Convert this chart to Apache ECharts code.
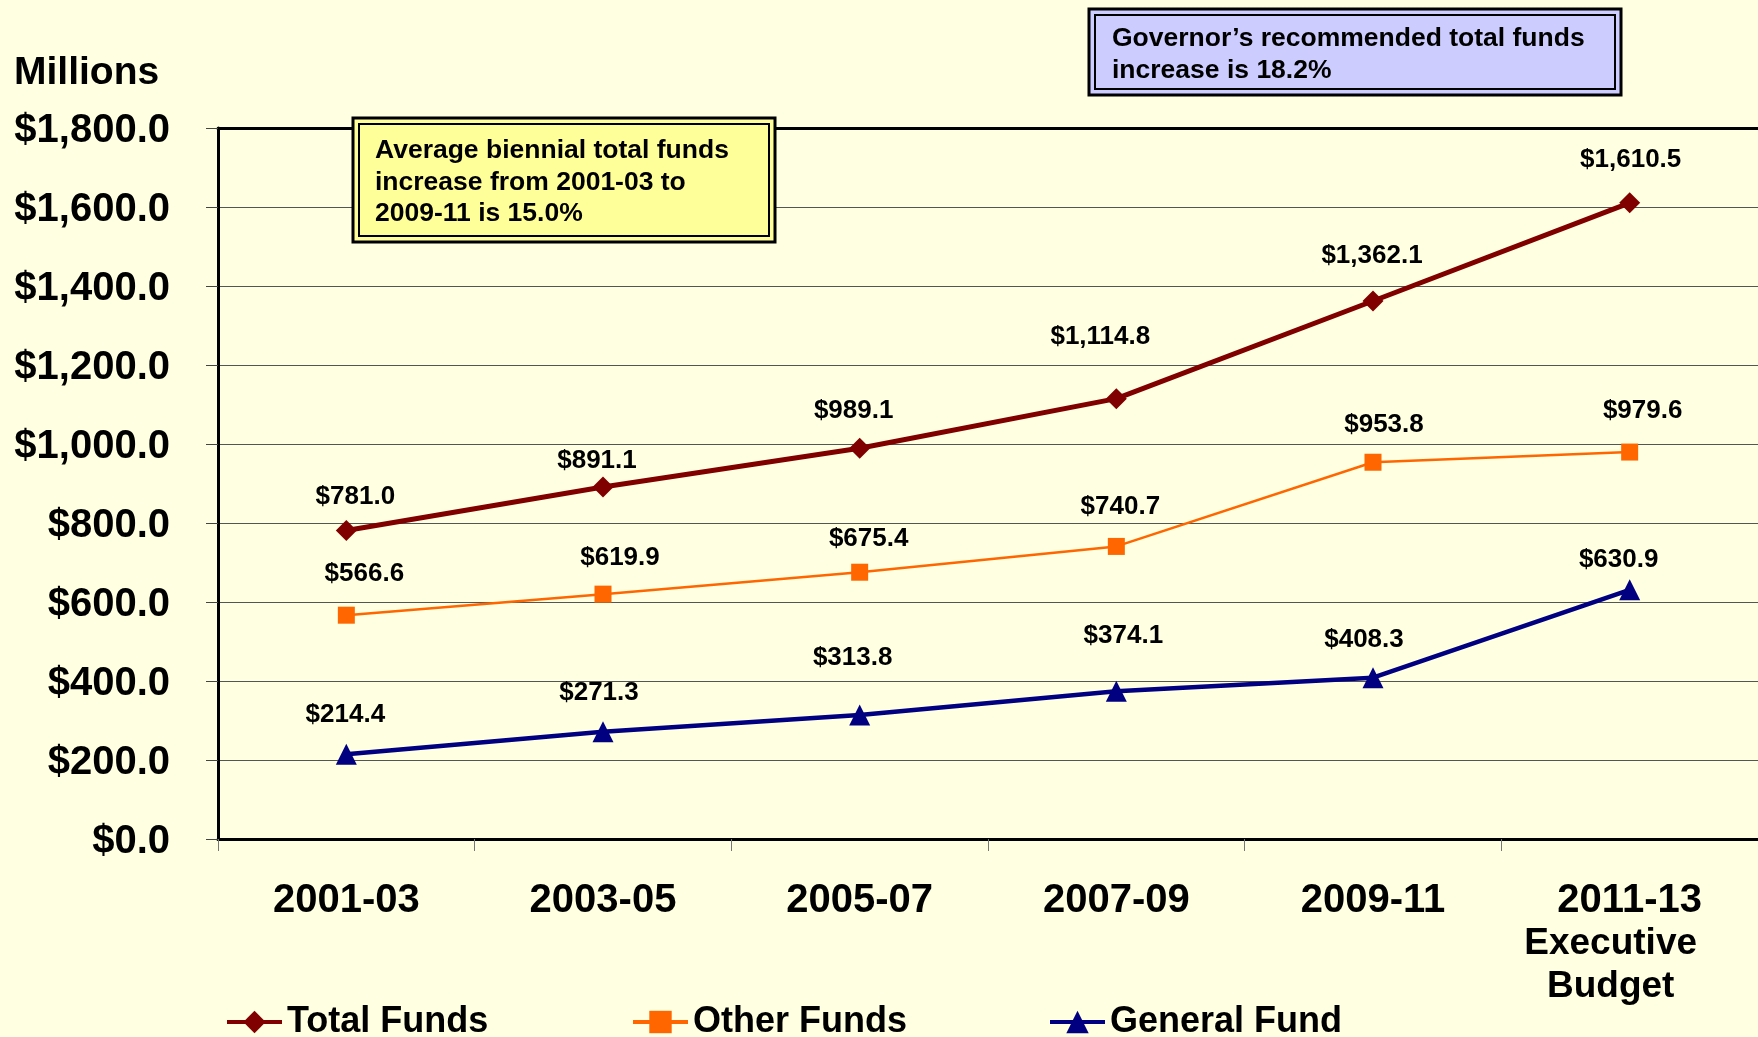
<!DOCTYPE html>
<html>
<head>
<meta charset="utf-8">
<script src="https://cdn.jsdelivr.net/npm/echarts@6/dist/echarts.min.js"></script>
<style>
html,body{margin:0;padding:0;background:#FFFFE1;}
#chart{width:1758px;height:1037px;}
</style>
</head>
<body>
<div id="chart"></div>
<script>
const categories = ['2001-03', '2003-05', '2005-07', '2007-09', '2009-11', '2011-13\nExecutive\nBudget'];
const totalFunds = [781.0, 891.1, 989.1, 1114.8, 1362.1, 1610.5];
const otherFunds = [566.6, 619.9, 675.4, 740.7, 953.8, 979.6];
const generalFund = [214.4, 271.3, 313.8, 374.1, 408.3, 630.9];
const yTicks = { min: 0, max: 1800, interval: 200 };
const noteLeft = ['Average biennial total funds', 'increase from 2001-03 to', '2009-11 is 15.0%'];
const noteRight = ['Governor\u2019s recommended total funds', 'increase is 18.2%'];

// label nudges (styling only, pixels)
const totalLabelShift = [[9, 12], [-6, 19], [-6, 8], [-16, -16], [-1, 0], [1, 2]];
const otherLabelShift = [[18, 2], [17, 7], [9, 10], [4, 4], [11, 6], [13, 2]];
const generalLabelShift = [[-1, 6], [-4, 6], [-7, -12], [7, -10], [-9, 8], [-11, 16]];

const FONT = 'Arial, "Liberation Sans", sans-serif';
function money(v) {
  const s = Number(v).toFixed(1);
  const [i, d] = s.split('.');
  return '$' + i.replace(/\B(?=(\d{3})+(?!\d))/g, ',') + '.' + d;
}
const labelStyle = {
  show: true, position: 'top', distance: 22,
  color: '#000', fontFamily: FONT, fontWeight: 'bold', fontSize: 26,
  formatter: p => money(p.value)
};
function withShift(values, shifts) {
  return values.map((v, i) => ({ value: v, label: { offset: shifts[i] } }));
}
const legendCommon = {
  top: 999, itemWidth: 55, itemHeight: 28,
  lineStyle: { width: 4 },
  textStyle: { color: '#000', fontFamily: FONT, fontWeight: 'bold', fontSize: 36 }
};

const chart = echarts.init(document.getElementById('chart'), null, { renderer: 'canvas' });
chart.setOption({
  backgroundColor: '#FFFFE1',
  animation: false,
  grid: { left: 218, top: 128, right: 0, bottom: 198 },
  xAxis: [{
    type: 'category', data: categories, boundaryGap: true,
    axisLine: { lineStyle: { color: '#000', width: 3 } },
    axisTick: { show: true, length: 12, lineStyle: { color: '#777', width: 1 } },
    axisLabel: {
      color: '#000', fontFamily: FONT, fontWeight: 'bold', fontSize: 40, lineHeight: 43, margin: 40, interval: 0,
      formatter: v => {
        const parts = v.split('\n');
        if (parts.length === 1) return v;
        return parts.map((p, k) => k === 0 ? '{a|' + p + '}' : '{b|' + p + '}').join('\n');
      },
      rich: {
        a: { color: '#000', fontFamily: FONT, fontWeight: 'bold', fontSize: 40, lineHeight: 43 },
        b: { color: '#000', fontFamily: FONT, fontWeight: 'bold', fontSize: 37, lineHeight: 43, padding: [0, 38, 0, 0] }
      }
    }
  }, {
    type: 'category', data: categories, position: 'top',
    axisLine: { show: true, lineStyle: { color: '#000', width: 3 } },
    axisTick: { show: false }, axisLabel: { show: false }
  }],
  yAxis: {
    type: 'value', min: yTicks.min, max: yTicks.max, interval: yTicks.interval,
    axisLine: { show: true, lineStyle: { color: '#000', width: 3 } },
    axisTick: { show: true, length: 12, lineStyle: { color: '#444', width: 1 } },
    splitLine: { show: true, lineStyle: { color: '#555', width: 1 } },
    axisLabel: {
      margin: 48, formatter: v => '{v|' + money(v) + '}',
      rich: { v: { color: '#000', fontFamily: FONT, fontWeight: 'bold', fontSize: 40, padding: [6, 0, 0, 0] } }
    },
    name: 'Millions', nameLocation: 'end', nameGap: 35,
    nameTextStyle: { color: '#000', fontFamily: FONT, fontWeight: 'bold', fontSize: 39, align: 'left', padding: [0, 0, 0, -204] }
  },
  legend: [
    Object.assign({ data: ['Total Funds'], left: 220 }, legendCommon),
    Object.assign({ data: ['Other Funds'], left: 626 }, legendCommon),
    Object.assign({ data: ['General Fund'], left: 1043 }, legendCommon)
  ],
  series: [
    { name: 'Total Funds', type: 'line', data: withShift(totalFunds, totalLabelShift), symbol: 'diamond', symbolSize: 21,
      itemStyle: { color: '#800000' }, lineStyle: { color: '#800000', width: 5 }, label: labelStyle },
    { name: 'Other Funds', type: 'line', data: withShift(otherFunds, otherLabelShift), symbol: 'rect', symbolSize: 17,
      itemStyle: { color: '#FF6600' }, lineStyle: { color: '#FF6600', width: 2.5 }, label: labelStyle },
    { name: 'General Fund', type: 'line', data: withShift(generalFund, generalLabelShift), symbol: 'triangle', symbolSize: 21,
      itemStyle: { color: '#000080' }, lineStyle: { color: '#000080', width: 4.5 }, label: labelStyle }
  ],
  graphic: [
    { type: 'rect', shape: { x: 353, y: 118, width: 422, height: 124 }, style: { fill: '#FFFF99', stroke: '#000', lineWidth: 3 }, z: 100 },
    { type: 'rect', shape: { x: 359, y: 124, width: 410, height: 112 }, style: { fill: '#FFFF99', stroke: '#000', lineWidth: 2 }, z: 101 },
    { type: 'text', left: 375, top: 135, z: 102,
      style: { text: noteLeft.join('\n'), fill: '#000', font: 'bold 26.5px ' + FONT, lineHeight: 31.5 } },
    { type: 'rect', shape: { x: 1089, y: 9, width: 532, height: 86 }, style: { fill: '#CCCCFF', stroke: '#000', lineWidth: 3 }, z: 100 },
    { type: 'rect', shape: { x: 1095, y: 15, width: 520, height: 74 }, style: { fill: '#CCCCFF', stroke: '#000', lineWidth: 2 }, z: 101 },
    { type: 'text', left: 1112, top: 22, z: 102,
      style: { text: noteRight.join('\n'), fill: '#000', font: 'bold 26.5px ' + FONT, lineHeight: 32.5 } }
  ]
});
</script>
</body>
</html>
